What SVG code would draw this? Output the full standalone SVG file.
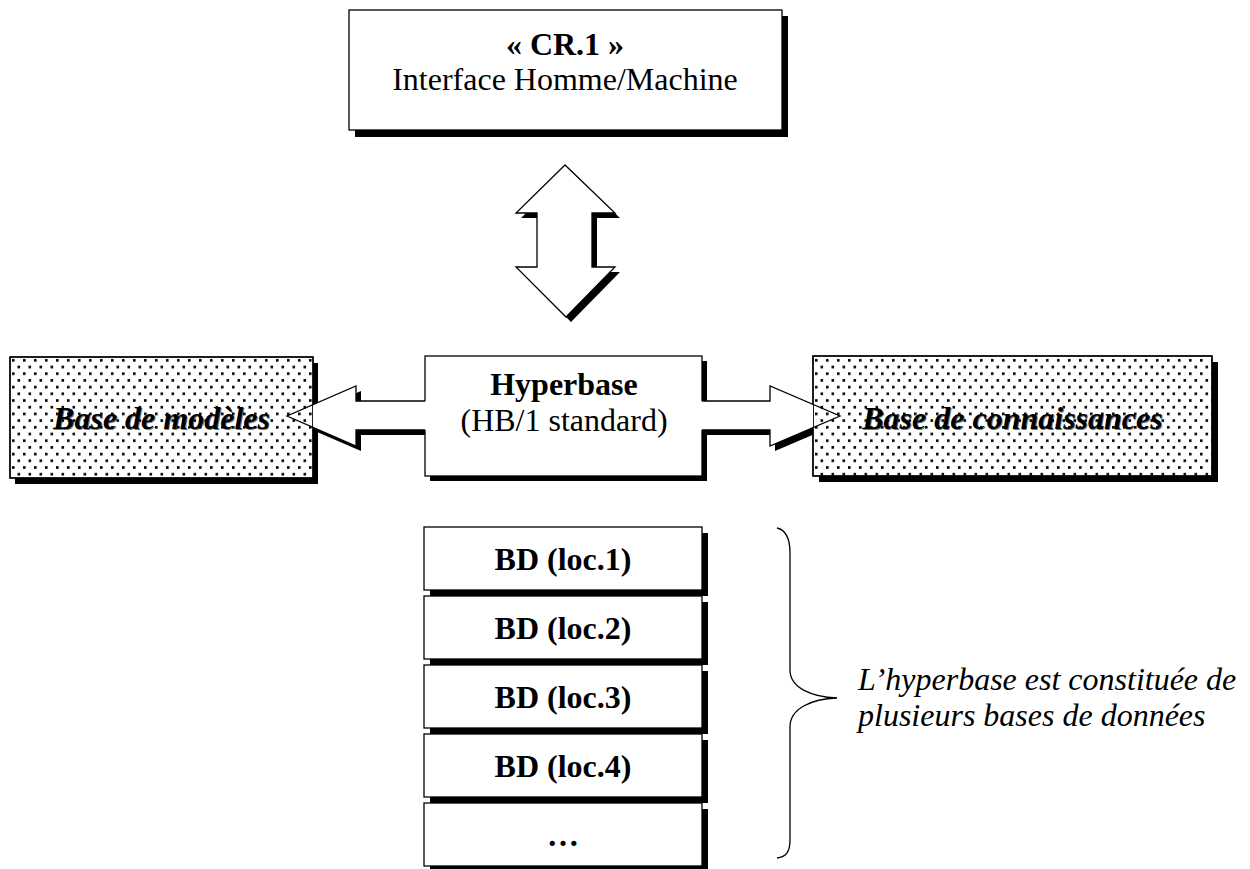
<svg xmlns="http://www.w3.org/2000/svg" width="1250" height="869" viewBox="0 0 1250 869">
<defs>
<style>
.box{fill:#fff;stroke:#000;stroke-width:1.3}
.sh{fill:#000}
.t{font-family:"Liberation Serif","Times New Roman",serif;font-size:32px;fill:#000;text-anchor:middle}
.b{font-weight:bold}
.bi{font-weight:bold;font-style:italic}
.it{font-style:italic;text-anchor:start}
.ol{fill:none;stroke:#000;stroke-width:1.3;stroke-linejoin:miter}
.af{fill:#fff;stroke:none}
</style>
<pattern id="dots" width="11" height="13.4" patternUnits="userSpaceOnUse" x="10" y="357">
<rect x="2" y="2" width="2.6" height="2.6" fill="#000"/>
<rect x="7.5" y="8.7" width="2.6" height="2.6" fill="#000"/>
</pattern>
<clipPath id="clipLfill"><rect x="313" y="300" width="114" height="200"/></clipPath>
<clipPath id="clipLsh"><rect x="313" y="300" width="112" height="200"/></clipPath>
<clipPath id="clipRfill"><rect x="700.5" y="300" width="112.5" height="200"/></clipPath>
<clipPath id="clipRsh"><rect x="702" y="300" width="111" height="200"/></clipPath>
</defs>
<rect width="1250" height="869" fill="#fff"/>

<g id="node-cr1">
<rect class="sh" x="355" y="16" width="433" height="121"/>
<rect class="box" x="349" y="10" width="433" height="120"/>
<text class="t b" x="565" y="55">« CR.1 »</text>
<text class="t" x="565" y="90">Interface Homme/Machine</text>
</g>

<g id="node-hyperbase">
<rect class="sh" x="430" y="361" width="277" height="120"/>
<rect class="box" x="425" y="356" width="277" height="120"/>
<text class="t b" x="564" y="395">Hyperbase</text>
<text class="t" x="564" y="431">(HB/1 standard)</text>
</g>

<g id="node-base-modeles">
<rect class="sh" x="15" y="363" width="303" height="121"/>
<rect class="box" x="10" y="357" width="303" height="121"/>
<rect x="10" y="357" width="303" height="121" fill="url(#dots)" stroke="#000" stroke-width="1.3"/>
<text class="t bi" x="162.5" y="429.5" fill-opacity="0.55">Base de modèles</text>
<text class="t bi" x="161.5" y="428.5">Base de modèles</text>
</g>

<g id="node-base-connaissances">
<rect class="sh" x="819" y="362" width="399" height="120"/>
<rect class="box" x="813" y="356" width="399" height="120"/>
<rect x="813" y="356" width="399" height="120" fill="url(#dots)" stroke="#000" stroke-width="1.3"/>
<text class="t bi" x="1013.5" y="429.5" fill-opacity="0.55">Base de connaissances</text>
<text class="t bi" x="1012.5" y="428.5">Base de connaissances</text>
</g>

<g id="node-bd1">
<rect class="sh" x="430" y="533" width="278" height="63"/>
<rect class="box" x="424" y="527" width="278" height="63"/>
<text class="t b" x="563" y="570">BD (loc.1)</text>
</g>
<g id="node-bd2">
<rect class="sh" x="430" y="602" width="278" height="63"/>
<rect class="box" x="424" y="596" width="278" height="63"/>
<text class="t b" x="563" y="639">BD (loc.2)</text>
</g>
<g id="node-bd3">
<rect class="sh" x="430" y="671" width="278" height="63"/>
<rect class="box" x="424" y="665" width="278" height="63"/>
<text class="t b" x="563" y="708">BD (loc.3)</text>
</g>
<g id="node-bd4">
<rect class="sh" x="430" y="740" width="278" height="63"/>
<rect class="box" x="424" y="734" width="278" height="63"/>
<text class="t b" x="563" y="777">BD (loc.4)</text>
</g>
<g id="node-bd5">
<rect class="sh" x="430" y="809" width="278" height="63"/>
<rect class="box" x="424" y="803" width="278" height="63"/>
<text class="t b" x="563" y="846">…</text>
</g>

<g id="connectors">
<g id="arrow-vertical">
<polygon class="sh" points="570,170 521,218 542,218 542,272 521,272 571,322 620,272 597,272 597,218 620,218"/>
<polygon class="box" points="565,165 516,213 537,213 537,267 516,267 566,317 615,267 592,267 592,213 615,213"/>
</g>
<g id="arrow-left">
<polygon class="sh" clip-path="url(#clipLsh)" points="430,406 361,406 361,391 292,421 361,451 361,435 430,435"/>
<polygon class="af" clip-path="url(#clipLfill)" points="427,401 356,401 356,386 287,416 356,446 356,430 427,430"/>
<polyline class="ol" points="425,401 356,401 356,386 287,416 356,446 356,430 425,430"/>
</g>
<g id="arrow-right">
<polygon class="sh" clip-path="url(#clipRsh)" points="700,406 775,406 775,391 845,421 775,451 775,435 700,435"/>
<polygon class="af" clip-path="url(#clipRfill)" points="700,401 770,401 770,386 840,416 770,446 770,430 700,430"/>
<polyline class="ol" points="702,401 770,401 770,386 840,416 770,446 770,430 702,430"/>
</g>
</g>

<g id="brace">
<path d="M777,528 C786,530 790,538 790,553 L790,670 C790,688 812,697 837,698 C812,699 790,708 790,727 L790,840 C790,852 786,857 777,858" fill="none" stroke="#000" stroke-width="1.3"/>
</g>

<g id="note">
<text class="t it" x="858" y="690">L’hyperbase est constituée de</text>
<text class="t it" x="858" y="726">plusieurs bases de données</text>
</g>
</svg>
